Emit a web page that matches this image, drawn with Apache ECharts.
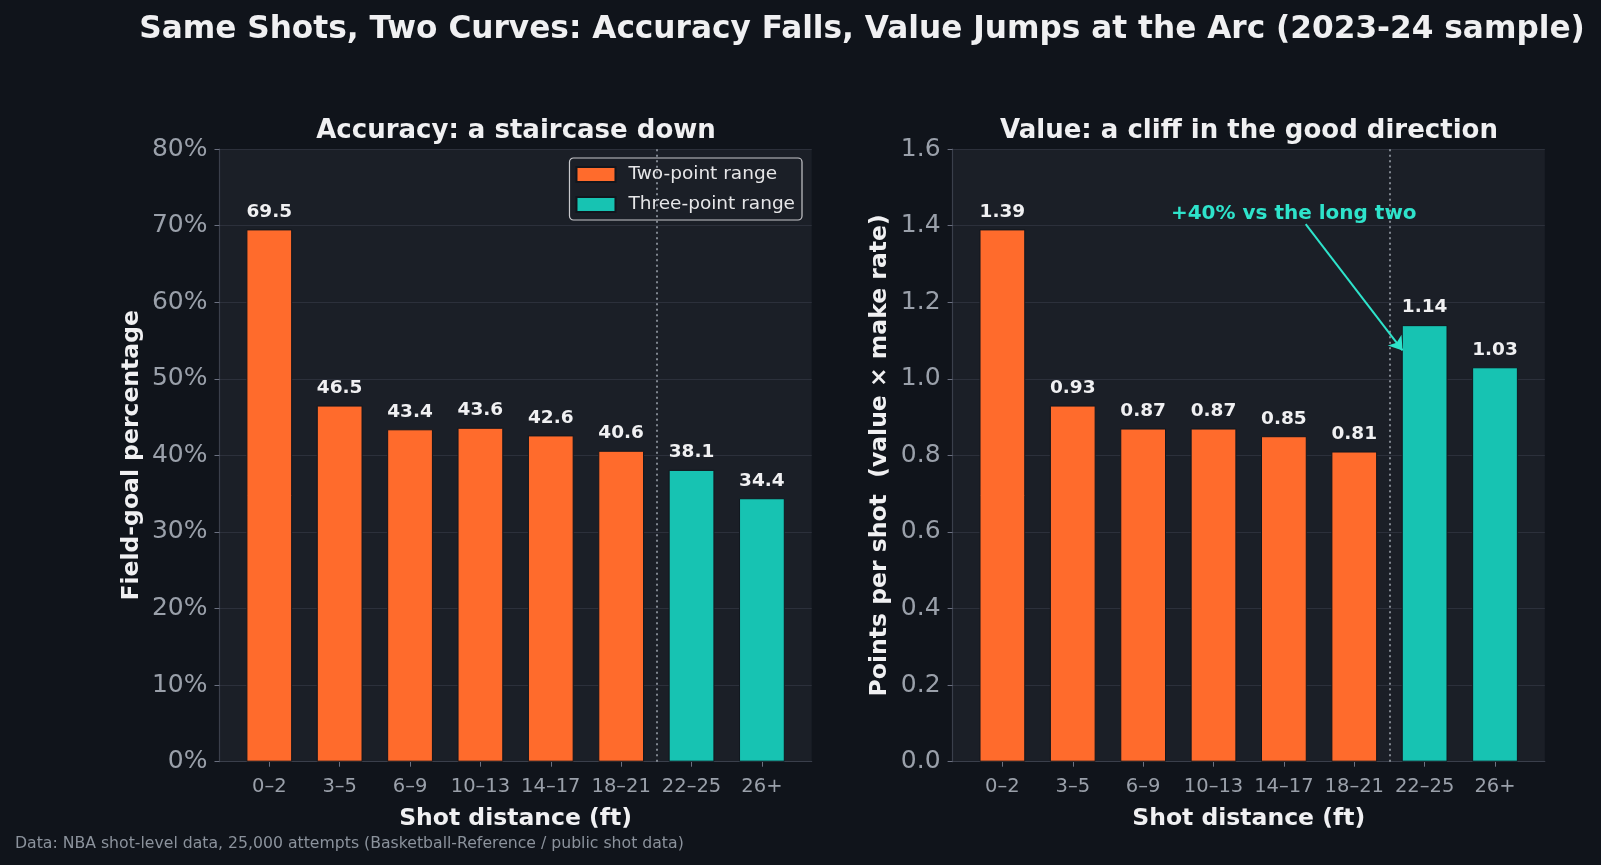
<!DOCTYPE html>
<html>
<head>
<meta charset="utf-8">
<title>Same Shots, Two Curves</title>
<script src="https://cdn.jsdelivr.net/npm/echarts@6/dist/echarts.min.js"></script>
<style>
  html, body { margin: 0; padding: 0; background: #10141b; }
  #chart { width: 1601px; height: 865px; }
</style>
</head>
<body>
<div id="chart"></div>
<script>
// --- data ---
var distanceBins = ['0–2', '3–5', '6–9', '10–13', '14–17', '18–21', '22–25', '26+'];
var fgPct = [69.5, 46.5, 43.4, 43.6, 42.6, 40.6, 38.1, 34.4];
var pointsPerShot = [1.39, 0.93, 0.87, 0.87, 0.85, 0.81, 1.14, 1.03];
var isThree = [false, false, false, false, false, false, true, true];
var arcLine = 5.5;                       // between 18–21 and 22–25
var noteText = '+40% vs the long two';
var notePos = [4.14, 1.432];
var arrowFrom = [4.31, 1.404];
var arrowTo = [5.686, 1.074];

var ORANGE = '#ff6b2c', TEAL = '#17c3b2', NOTE = '#2ee3cb';
var BG = '#10141b', PANEL = '#1b1f27', GRID = '#2c303b', SPINE = '#3a3f4b';
var TXT = '#f0f0f2', TICK = '#9aa0aa';
var FONT = 'DejaVu Sans';

// matplotlib-ish x limits: bar width 0.65 plus 5% margin
var barW = 0.65;
var span = (distanceBins.length - 1) + barW;
var xMin = -barW / 2 - span * 0.05, xMax = distanceBins.length - 1 + barW / 2 + span * 0.05;
var tickIdx = distanceBins.map(function (d, i) { return i; });

function split(vals, three) {
    var out = [];
    vals.forEach(function (v, i) { if (isThree[i] === three) out.push([i, v]); });
    return out;
}

function xAxisFor(gi) {
    return {
        type: 'value', gridIndex: gi, min: xMin, max: xMax,
        name: 'Shot distance (ft)', nameLocation: 'middle', nameGap: 45,
        nameTextStyle: { color: TXT, fontSize: 23.5, fontWeight: 'bold', fontFamily: FONT },
        axisLine: { show: true, onZero: false, lineStyle: { color: SPINE, width: 1.2 } },
        axisTick: { show: true, customValues: tickIdx, length: 5, lineStyle: { color: '#6b7080' } },
        axisLabel: {
            customValues: tickIdx, margin: 15, color: TICK, fontSize: 19.5, fontFamily: FONT,
            formatter: function (v) { return distanceBins[Math.round(v)]; }
        },
        splitLine: { show: false }
    };
}

function yAxisFor(gi, max, step, name, gap, fmt) {
    return {
        type: 'value', gridIndex: gi, min: 0, max: max, interval: step,
        name: name, nameLocation: 'middle', nameGap: gap, nameRotate: 90,
        nameTextStyle: { color: TXT, fontSize: 23.5, fontWeight: 'bold', fontFamily: FONT },
        axisLine: { show: true, onZero: false, lineStyle: { color: SPINE, width: 1.2 } },
        axisTick: { show: true, length: 5, lineStyle: { color: '#6b7080' } },
        axisLabel: { color: TICK, fontSize: 25, fontFamily: FONT, margin: 12, formatter: fmt },
        splitLine: { show: true, lineStyle: { color: GRID, width: 1.2 } }
    };
}

function barSeries(name, color, xi, data, digits, extra) {
    var s = {
        name: name, type: 'bar', xAxisIndex: xi, yAxisIndex: xi,
        data: data, barWidth: '65%', barGap: '-100%',
        itemStyle: { color: color, borderColor: '#12161d', borderWidth: 1 },
        label: {
            show: true, position: 'top', distance: 8,
            color: TXT, fontSize: 18.5, fontWeight: 'bold', fontFamily: FONT,
            formatter: function (p) { return p.value[1].toFixed(digits); }
        }
    };
    for (var k in extra) s[k] = extra[k];
    return s;
}

var divider = {
    silent: true, symbol: 'none', label: { show: false },
    lineStyle: { color: '#9aa0aa', type: [2, 3.5], width: 1.6 },
    data: [{ xAxis: arcLine }]
};

var opt = {
    backgroundColor: BG,
    animation: false,
    textStyle: { fontFamily: FONT },
    title: [
        { text: 'Same Shots, Two Curves: Accuracy Falls, Value Jumps at the Arc (2023-24 sample)',
          left: 857, top: 9, textAlign: 'center',
          textStyle: { color: TXT, fontSize: 31.2, fontWeight: 'bold', fontFamily: FONT } },
        { text: 'Accuracy: a staircase down', left: 511, top: 113, textAlign: 'center',
          textStyle: { color: TXT, fontSize: 26, fontWeight: 'bold', fontFamily: FONT } },
        { text: 'Value: a cliff in the good direction', left: 1244, top: 113, textAlign: 'center',
          textStyle: { color: TXT, fontSize: 26, fontWeight: 'bold', fontFamily: FONT } },
        { text: 'Data: NBA shot-level data, 25,000 attempts (Basketball-Reference / public shot data)',
          left: 10, top: 831,
          textStyle: { color: '#8b929c', fontSize: 15.7, fontWeight: 'normal', fontFamily: FONT } }
    ],
    legend: {
        orient: 'vertical', right: 799, top: 158,
        data: ['Two-point range', 'Three-point range'],
        itemWidth: 39, itemHeight: 15, itemGap: 11,
        padding: [7, 7, 6, 6],
        backgroundColor: PANEL, borderColor: '#c8c8cc', borderWidth: 1.2, borderRadius: 4,
        textStyle: { color: '#e6e6e8', fontSize: 18.5, fontFamily: FONT, padding: [0, 0, 0, 8] },
        icon: 'rect'
    },
    grid: [
        { left: 219.5, top: 149, width: 592.2, height: 612.7, show: true, backgroundColor: PANEL, borderWidth: 0 },
        { left: 952.6, top: 149, width: 592.2, height: 612.7, show: true, backgroundColor: PANEL, borderWidth: 0 }
    ],
    xAxis: [xAxisFor(0), xAxisFor(1)],
    yAxis: [
        yAxisFor(0, 80, 10, 'Field-goal percentage', 76, '{value}%'),
        yAxisFor(1, 1.6, 0.2, 'Points per shot  (value × make rate)', 61,
            function (v) { return v.toFixed(1); })
    ],
    series: [
        barSeries('Two-point range', ORANGE, 0, split(fgPct, false), 1, { markLine: divider }),
        barSeries('Three-point range', TEAL, 0, split(fgPct, true), 1, {}),
        barSeries('Two-point range', ORANGE, 1, split(pointsPerShot, false), 2, { markLine: divider }),
        barSeries('Three-point range', TEAL, 1, split(pointsPerShot, true), 2, {
            markLine: {
                silent: true, symbol: ['none', 'arrow'], symbolSize: 13,
                label: { show: false },
                lineStyle: { color: NOTE, type: 'solid', width: 2 },
                data: [[{ coord: arrowFrom }, { coord: arrowTo }]]
            },
            markPoint: {
                silent: true, symbol: 'rect', symbolSize: 1,
                itemStyle: { color: 'rgba(0,0,0,0)' },
                label: { show: true, position: 'inside', formatter: noteText,
                    color: NOTE, fontSize: 20, fontWeight: 'bold', fontFamily: FONT },
                data: [{ coord: notePos }]
            }
        })
    ]
};

var myChart = echarts.init(document.getElementById('chart'), null, { renderer: 'canvas' });
myChart.setOption(opt);
</script>
</body>
</html>
